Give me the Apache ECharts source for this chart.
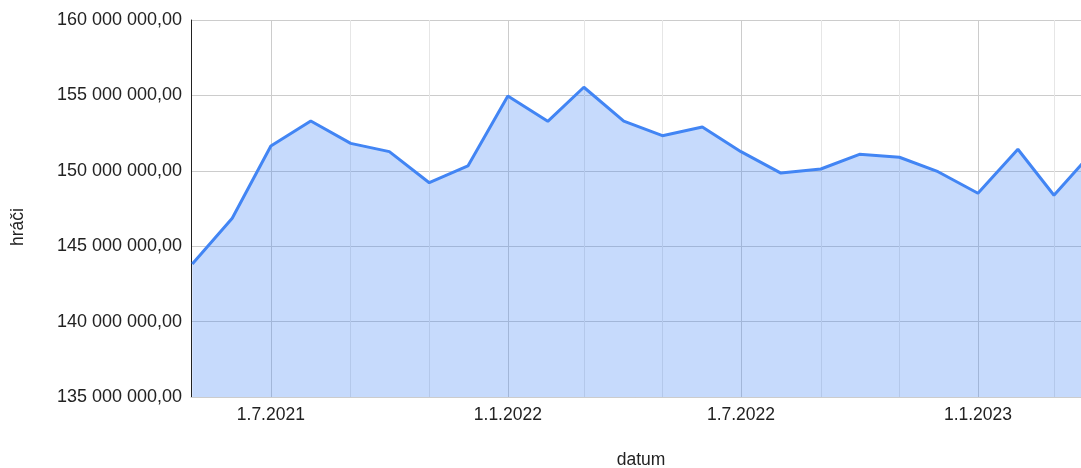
<!DOCTYPE html>
<html>
<head>
<meta charset="utf-8">
<script src="https://cdn.jsdelivr.net/npm/echarts@6/dist/echarts.min.js"></script>
<style>
html,body{margin:0;padding:0;background:#fff;}
#chart{width:1081px;height:468px;}
</style>
</head>
<body>
<div id="chart"></div>
<script>
// Data
var dates = ['2021-05-01','2021-06-01','2021-07-01','2021-08-01','2021-09-01','2021-10-01',
             '2021-11-01','2021-12-01','2022-01-01','2022-02-01','2022-03-01','2022-04-01',
             '2022-05-01','2022-06-01','2022-07-01','2022-08-01','2022-09-01','2022-10-01',
             '2022-11-01','2022-12-01','2023-01-01','2023-02-01','2023-03-01','2023-04-01'];
var players = [143820000,146850000,151640000,153300000,151820000,151270000,
               149210000,150320000,154960000,153280000,155540000,153300000,
               152330000,152900000,151270000,149850000,150120000,151090000,
               150900000,149940000,148510000,151430000,148380000,151330000];
var majorTicks = ['2021-07-01','2022-01-01','2022-07-01','2023-01-01'];
var minorTicks = ['2021-09-01','2021-11-01','2022-03-01','2022-05-01','2022-09-01','2022-11-01','2023-03-01'];
var yMin = 135000000, yMax = 160000000, yStep = 5000000;
var xMin = '2021-04-30', xMax = '2023-03-22';
var yTitle = 'hráči', xTitle = 'datum';

function ts(s){ var p = s.split('-'); return new Date(+p[0], +p[1]-1, +p[2]).getTime(); }
function fmtNum(v){
  var s = Math.round(v).toString().replace(/\B(?=(\d{3})+(?!\d))/g, ' ');
  return s + ',00';
}
function fmtDate(v){ var d = new Date(v); return d.getDate() + '.' + (d.getMonth()+1) + '.' + d.getFullYear(); }
var majorTs = majorTicks.map(ts);

var seriesData = dates.map(function(d, i){ return [ts(d), players[i]]; });
var gridLines = [];
majorTicks.forEach(function(d){ gridLines.push({xAxis: ts(d), lineStyle:{color:'#cccccc', width:1, type:'solid'}}); });
minorTicks.forEach(function(d){ gridLines.push({xAxis: ts(d), lineStyle:{color:'#e6e6e6', width:1, type:'solid'}}); });

var DAY = 86400000;
var font = 'Liberation Sans, Arial, sans-serif';
var chart = echarts.init(document.getElementById('chart'), null, {renderer:'canvas'});
chart.setOption({
  animation: false,
  grid: {left: 191, top: 20, right: 0, bottom: 71, containLabel: false},
  xAxis: {
    type: 'time',
    min: ts(xMin), max: ts(xMax),
    minInterval: 28 * DAY, maxInterval: 31 * DAY,
    axisLine: {show: true, lineStyle: {color: '#cccccc', width: 1}},
    axisTick: {show: false},
    splitLine: {show: false},
    axisLabel: {
      interval: 0,
      formatter: function(v){
        var t = (typeof v === 'number') ? v : +v;
        for (var i = 0; i < majorTs.length; i++) {
          if (Math.abs(majorTs[i] - t) < DAY / 2) return fmtDate(majorTs[i]);
        }
        return '';
      },
      color: '#222222', fontFamily: font, fontSize: 17.5, margin: 9,
      hideOverlap: false, showMinLabel: false, showMaxLabel: false
    }
  },
  yAxis: {
    type: 'value',
    min: yMin, max: yMax, interval: yStep,
    axisLine: {show: true, lineStyle: {color: '#222222', width: 1}},
    axisTick: {show: false},
    splitLine: {show: true, lineStyle: {color: '#cccccc', width: 1}},
    axisLabel: {formatter: fmtNum, color: '#222222', fontFamily: font, fontSize: 18, margin: 9}
  },
  graphic: [
    {type: 'text', x: 18, y: 227, rotation: Math.PI/2,
     style: {text: yTitle, fill: '#222222', font: '17.5px ' + font, align: 'center', verticalAlign: 'middle'}},
    {type: 'text', x: 641, y: 460,
     style: {text: xTitle, fill: '#222222', font: '17.5px ' + font, align: 'center', verticalAlign: 'middle'}}
  ],
  series: [
    {
      type: 'line', name: 'grid', z: 1, silent: true,
      data: seriesData, showSymbol: false,
      lineStyle: {opacity: 0}, tooltip: {show: false},
      markLine: {silent: true, symbol: 'none', z: 1, label: {show: false},
                 animation: false, data: gridLines}
    },
    {
      type: 'line', name: yTitle, z: 3,
      data: seriesData,
      showSymbol: false, symbol: 'none',
      clip: true,
      lineStyle: {color: '#4285f4', width: 3},
      itemStyle: {color: '#4285f4'},
      areaStyle: {color: '#4285f4', opacity: 0.3, origin: 'start'}
    }
  ]
});
</script>
</body>
</html>
